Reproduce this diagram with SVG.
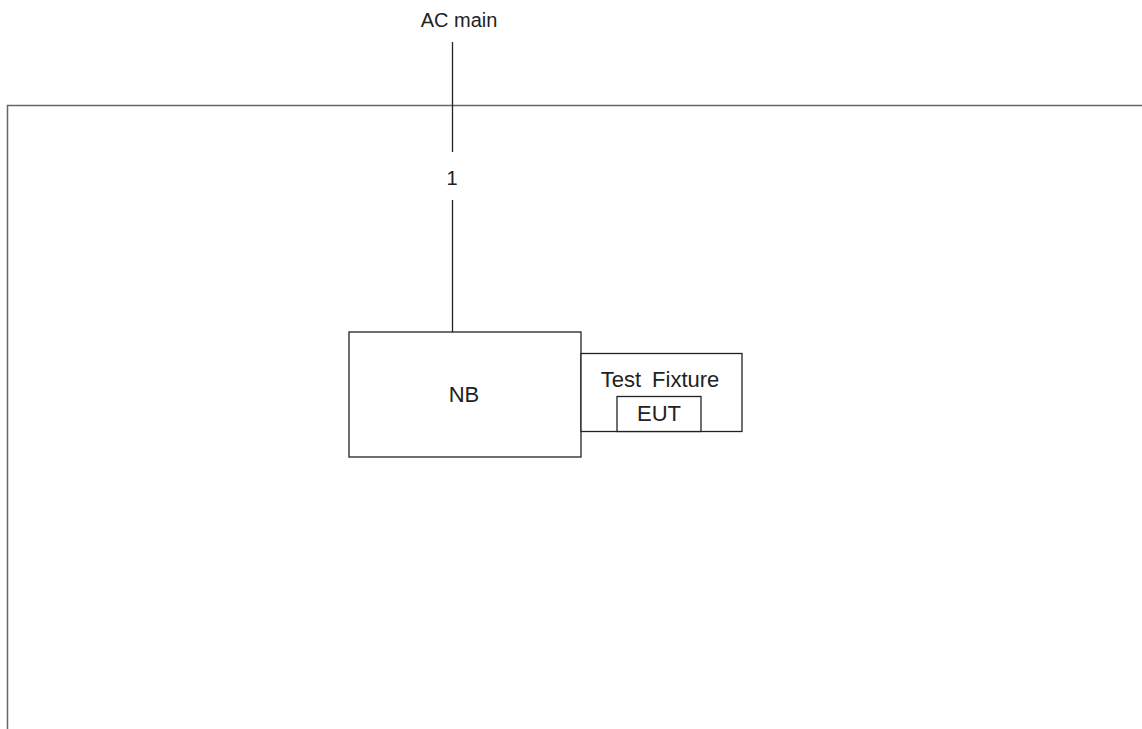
<svg xmlns="http://www.w3.org/2000/svg" width="1142" height="729" viewBox="0 0 1142 729">
<style>
.t{font-family:"Liberation Sans",Arial,sans-serif;fill:#222;text-anchor:middle}
.b{fill:#fff;stroke:#222;stroke-width:1.3}
.w{stroke:#222;stroke-width:1.3;fill:none}
</style>
<rect width="1142" height="729" fill="#fff"/>
<g id="frame"><path d="M7.5,729 V105.5 H1142" fill="none" stroke="#666" stroke-width="1.5"/></g>
<g id="ac-main"><text class="t" x="459" y="27" font-size="20">AC main</text></g>
<g id="connectors">
<path class="w" d="M452.5,42 V152"/>
<path class="w" d="M452.5,200 V332"/>
<text class="t" x="452" y="185" font-size="20">1</text>
</g>
<g id="nb"><rect class="b" x="349" y="332" width="232" height="125"/><text class="t" x="464" y="402" font-size="22">NB</text></g>
<g id="test-fixture"><rect class="b" x="581" y="353.5" width="161" height="78"/><text class="t" x="660" y="387" font-size="22" style="word-spacing:5px">Test Fixture</text></g>
<g id="eut"><rect class="b" x="617" y="396.5" width="84" height="35"/><text class="t" x="659" y="421" font-size="22">EUT</text></g>
</svg>
